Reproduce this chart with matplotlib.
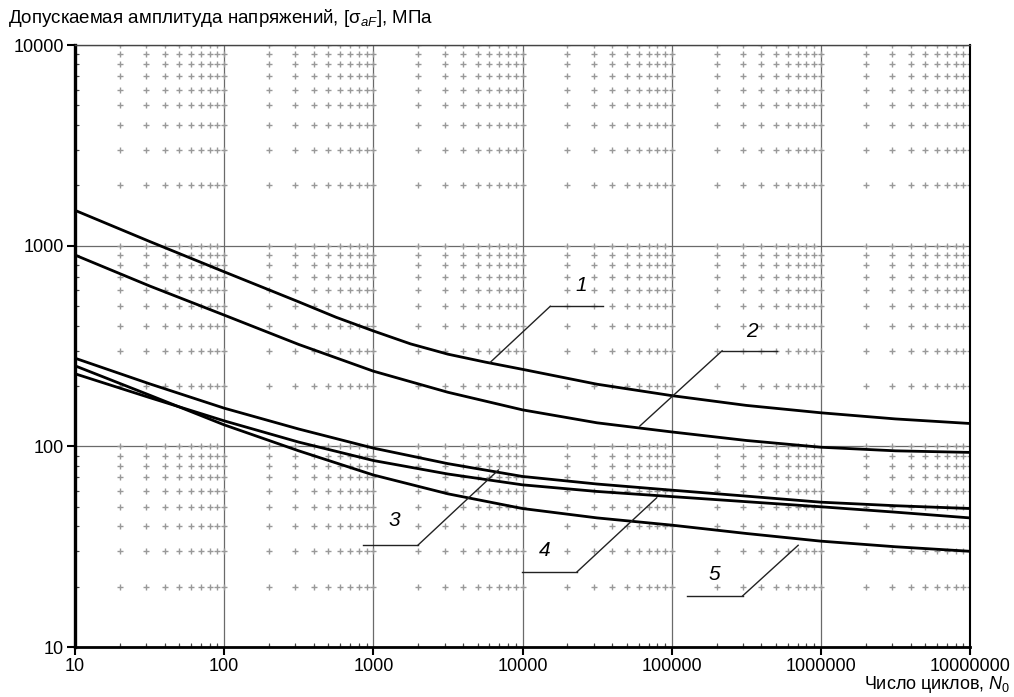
import numpy as np
import matplotlib.pyplot as plt
from matplotlib.ticker import FixedLocator, FuncFormatter, NullFormatter

plt.rcParams['font.family'] = ['Liberation Sans', 'DejaVu Sans']
plt.rcParams['mathtext.fontset'] = 'custom'
plt.rcParams['mathtext.rm'] = 'Liberation Sans'
plt.rcParams['mathtext.it'] = 'Liberation Sans:italic'

# cycles, N0 (curve 1 is read more densely around its bend)
cycles = [10, 31.6, 100, 316, 1000, 3162, 10000, 31623, 100000, 316228, 1000000, 3162278, 10000000]
cycles_1 = [10, 31.6, 100, 316, 562, 1000, 1778, 3162, 5623, 10000, 31623, 100000, 316228,
            1000000, 3162278, 10000000]

# allowable stress amplitude, MPa
curve_1 = [1500, 1050, 741, 525, 440, 376, 324, 288, 263, 242, 204, 179, 160, 147, 137, 130]
curve_2 = [898, 630, 451, 322, 237, 186, 152, 131, 118, 107, 99, 95, 93.3]
curve_3 = [275, 205, 155, 122, 98, 82, 70.8, 64.9, 60.5, 56.5, 52.7, 50.6, 49]
curve_4 = [230, 175, 134, 105, 85, 72.8, 64.3, 59.6, 56.2, 53, 50, 47, 44]
curve_5 = [252, 180, 128, 95, 72, 58, 49, 44, 40.5, 36.8, 33.7, 31.6, 30]

curve_labels = ["1", "2", "3", "4", "5"]

x_ticks = [10, 100, 1000, 10000, 100000, 1000000, 10000000]
y_ticks = [10, 100, 1000, 10000]

fig = plt.figure(figsize=(10.14, 6.97), dpi=100)
ax = fig.add_axes([0.074, 0.0717, 0.8826, 0.8637])
ax.set_xscale('log')
ax.set_yscale('log')
ax.set_xlim(10, 10000000)
ax.set_ylim(10, 10000)

# major grid
for xv in x_ticks:
    ax.axvline(xv, color='#6a6a6a', lw=0.9, zorder=1)
for yv in y_ticks:
    ax.axhline(yv, color='#6a6a6a', lw=0.9, zorder=1)

# minor grid drawn as small crosses
xs = [m * 10 ** k for k in range(1, 7) for m in range(1, 10)] + [10000000]
ys = [m * 10 ** k for k in range(1, 4) for m in range(1, 10)] + [10000]
gx, gy = [], []
for xv in xs:
    for yv in ys:
        if xv in x_ticks and yv in y_ticks:
            continue
        gx.append(xv)
        gy.append(yv)
ax.scatter(gx, gy, marker='+', s=24, linewidths=1.0, color='#999999', zorder=1)

ax.plot(cycles_1, curve_1, color='black', lw=2.0, zorder=3)
for ys_curve in [curve_2, curve_3, curve_4, curve_5]:
    ax.plot(cycles, ys_curve, color='black', lw=2.0, zorder=3)

# leader lines: (text pos, horizontal start, horizontal end, curve point) in axes fraction
leaders = [
    ((0.566, 0.600), (0.531, 0.566), (0.590, 0.566), (0.464, 0.473)),
    ((0.756, 0.524), (0.723, 0.492), (0.784, 0.492), (0.631, 0.367)),
    ((0.357, 0.210), (0.322, 0.169), (0.383, 0.169), (0.473, 0.294)),
    ((0.525, 0.160), (0.499, 0.125), (0.561, 0.125), (0.650, 0.248)),
    ((0.714, 0.120), (0.684, 0.085), (0.746, 0.085), (0.808, 0.169)),
]
for lab, (tp, h0, h1, cp) in zip(curve_labels, leaders):
    ax.plot([h0[0], h1[0]], [h0[1], h1[1]], color='#222222', lw=1.0,
            transform=ax.transAxes, zorder=4)
    joint = h1 if lab in ("3", "4", "5") else h0
    ax.plot([joint[0], cp[0]], [joint[1], cp[1]], color='#222222', lw=1.0,
            transform=ax.transAxes, zorder=4)
    ax.text(tp[0], tp[1], lab, transform=ax.transAxes, fontsize=15,
            style='italic', ha='center', va='center', zorder=5)

ax.xaxis.set_major_locator(FixedLocator(x_ticks))
ax.yaxis.set_major_locator(FixedLocator(y_ticks))
fmt = FuncFormatter(lambda v, p: f"{int(round(v))}")
ax.xaxis.set_major_formatter(fmt)
ax.yaxis.set_major_formatter(fmt)
ax.xaxis.set_minor_formatter(NullFormatter())
ax.yaxis.set_minor_formatter(NullFormatter())
ax.tick_params(axis='both', which='major', direction='out', length=6, width=1.5,
               labelsize=13, pad=2, color='black')
ax.tick_params(axis='x', which='minor', direction='in', length=3, width=0.8, color='#444444')
ax.tick_params(axis='y', which='minor', direction='in', length=3, width=0.8, color='#444444')
ax.tick_params(top=False, right=False, which='both')

ax.spines['left'].set_linewidth(2.4)
ax.spines['bottom'].set_linewidth(2.0)
ax.spines['top'].set_linewidth(1.0)
ax.spines['top'].set_color('#444444')
ax.spines['right'].set_linewidth(1.5)

fig.text(0.008, 0.974, 'Допускаемая амплитуда напряжений, [σ$_{aF}$], МПа',
         fontsize=13.5, ha='left', va='center')
fig.text(0.996, 0.018, 'Число циклов, $N_0$', fontsize=13, ha='right', va='center')

fig.savefig('out.png', dpi=100, facecolor='white')
